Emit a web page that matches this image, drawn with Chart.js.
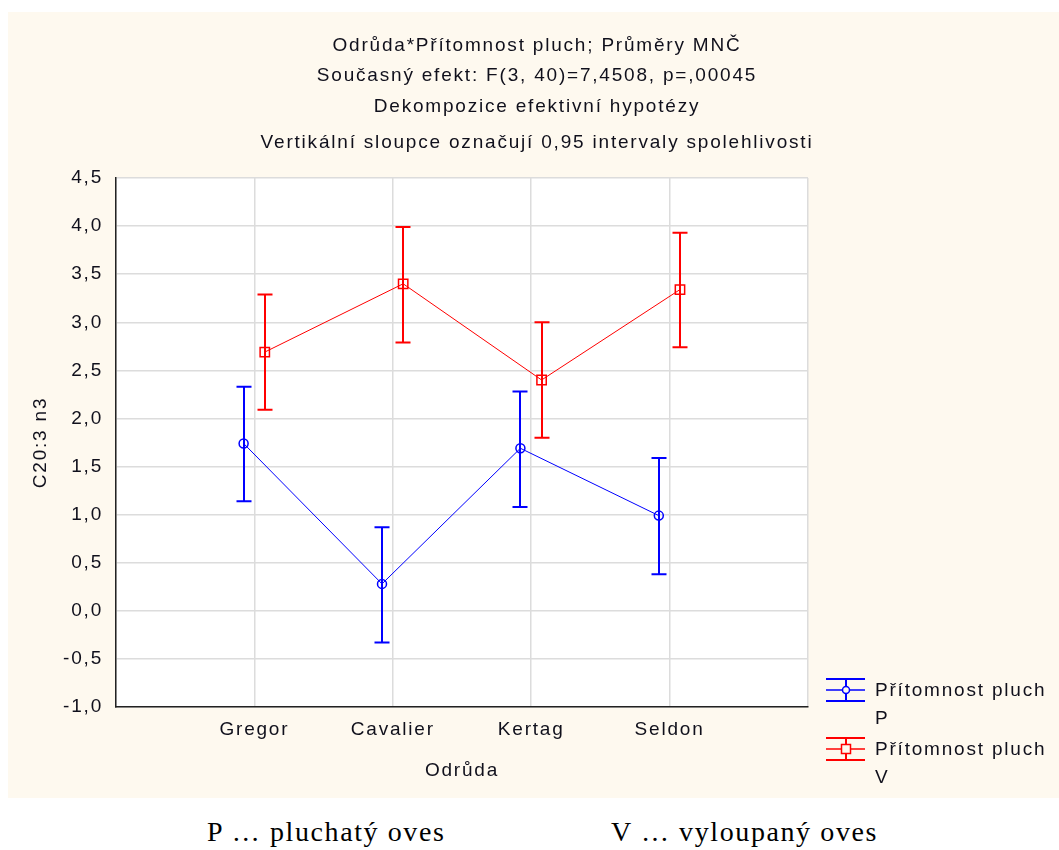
<!DOCTYPE html>
<html>
<head>
<meta charset="utf-8">
<script src="https://cdn.jsdelivr.net/npm/chart.js@4.4.1/dist/chart.umd.min.js"></script>
<style>
  html, body { margin: 0; padding: 0; background: #ffffff; width: 1059px; height: 850px; overflow: hidden; }
  #panel { position: absolute; left: 8px; top: 12px; width: 1051px; height: 786px; background: #fef9ef; }
  #c { display: block; }
  .note { position: absolute; top: 815px; font-family: "Liberation Serif", "Times New Roman", serif; font-size: 28px; line-height: 34px; letter-spacing: 1.6px; color: #000; white-space: nowrap; }
</style>
</head>
<body>
<div id="panel"><canvas id="c" width="1051" height="786"></canvas></div>
<div class="note" style="left:207px;">P … pluchatý oves</div>
<div class="note" style="left:611px;">V … vyloupaný oves</div>
<script>
// ---- data ----
const categories = ['Gregor', 'Cavalier', 'Kertag', 'Seldon'];
const titleLines = [
  'Odrůda*Přítomnost pluch; Průměry MNČ',
  'Současný efekt: F(3, 40)=7,4508, p=,00045',
  'Dekompozice efektivní hypotézy',
  'Vertikální sloupce označují 0,95 intervaly spolehlivosti'
];
const seriesNames = ['Přítomnost pluch\nP', 'Přítomnost pluch\nV'];
const meanP = [1.74, 0.28, 1.69, 0.99];
const lowP  = [1.14, -0.33, 1.08, 0.38];
const highP = [2.33, 0.87, 2.28, 1.59];
const meanV = [2.69, 3.40, 2.40, 3.34];
const lowV  = [2.09, 2.79, 1.80, 2.74];
const highV = [3.29, 3.99, 3.00, 3.93];
const yTicks = [-1.0, -0.5, 0.0, 0.5, 1.0, 1.5, 2.0, 2.5, 3.0, 3.5, 4.0, 4.5];
const xTitle = 'Odrůda';
const yTitle = 'C20:3 n3';

const BLUE = '#0000ff', RED = '#ff0000', TXT = '#10101c';
const FONT = 'Arial, "Liberation Sans", sans-serif';
const FSIZE = 19;
const SPACING = '1.8px';

const ptsP = categories.map((c, i) => ({ x: i + 1 - 0.078, y: meanP[i] }));
const ptsV = categories.map((c, i) => ({ x: i + 1 + 0.075, y: meanV[i] }));

const setSpacing = {
  id: 'setSpacing',
  beforeUpdate(chart) { chart.ctx.letterSpacing = SPACING; },
  beforeDraw(chart) {
    const ctx = chart.ctx;
    ctx.letterSpacing = SPACING;
    const a = chart.chartArea;
    ctx.save();
    ctx.fillStyle = '#ffffff';
    ctx.fillRect(a.left, a.top, a.right - a.left, a.bottom - a.top);
    ctx.restore();
  }
};

const errorBars = {
  id: 'errorBars',
  afterDatasetsDraw(chart) {
    const ctx = chart.ctx;
    const ys = chart.scales.y;
    const sets = [[lowP, highP, BLUE], [lowV, highV, RED]];
    sets.forEach(([lo, hi, col], di) => {
      const meta = chart.getDatasetMeta(di);
      ctx.save();
      ctx.strokeStyle = col;
      ctx.lineWidth = 2;
      meta.data.forEach((el, i) => {
        const x = Math.round(el.x);
        const y1 = ys.getPixelForValue(lo[i]);
        const y2 = ys.getPixelForValue(hi[i]);
        ctx.beginPath();
        ctx.moveTo(x, y1); ctx.lineTo(x, y2);
        ctx.moveTo(x - 7.5, y1); ctx.lineTo(x + 7.5, y1);
        ctx.moveTo(x - 7.5, y2); ctx.lineTo(x + 7.5, y2);
        ctx.stroke();
      });
      ctx.restore();
    });
  }
};

const titleAndLegend = {
  id: 'titleAndLegend',
  afterDraw(chart) {
    const ctx = chart.ctx;
    ctx.save();
    ctx.letterSpacing = SPACING;
    ctx.fillStyle = TXT;
    ctx.font = FSIZE + 'px ' + FONT;
    ctx.textAlign = 'center';
    ctx.textBaseline = 'middle';
    const tys = [34, 64, 95, 131];
    titleLines.forEach((t, i) => ctx.fillText(t, 529, tys[i]));

    // legend
    const items = [
      { col: BLUE, y: 678, marker: 'circle', lines: seriesNames[0].split('\n') },
      { col: RED, y: 737, marker: 'rect', lines: seriesNames[1].split('\n') }
    ];
    items.forEach(it => {
      const x0 = 818, x1 = 857, xm = 838;
      const top = it.y - 11, mid = it.y, bot = it.y + 11;
      ctx.strokeStyle = it.col;
      ctx.lineWidth = 2;
      ctx.beginPath();
      ctx.moveTo(x0, top); ctx.lineTo(x1, top);
      ctx.moveTo(x0, bot); ctx.lineTo(x1, bot);
      ctx.moveTo(xm, top); ctx.lineTo(xm, bot);
      ctx.stroke();
      ctx.lineWidth = 1.5;
      ctx.beginPath();
      ctx.moveTo(x0, mid); ctx.lineTo(x1, mid);
      ctx.stroke();
      ctx.beginPath();
      if (it.marker === 'circle') ctx.arc(xm, mid, 3.5, 0, Math.PI * 2);
      else ctx.rect(xm - 4.5, mid - 4.5, 9, 9);
      ctx.fillStyle = '#fef9ef';
      ctx.fill();
      ctx.stroke();
      ctx.fillStyle = TXT;
      ctx.textAlign = 'left';
      it.lines.forEach((l, k) => ctx.fillText(l, 867, mid + 1 + k * 28));
    });
    ctx.restore();
  }
};

const ctx = document.getElementById('c').getContext('2d');
new Chart(ctx, {
  type: 'line',
  data: {
    datasets: [
      {
        label: seriesNames[0], data: ptsP,
        borderColor: BLUE, borderWidth: 1, backgroundColor: 'rgba(0,0,0,0)',
        pointStyle: 'circle', pointRadius: 4.5, pointBorderWidth: 1.5,
        pointBorderColor: BLUE, pointBackgroundColor: 'rgba(0,0,0,0)', tension: 0
      },
      {
        label: seriesNames[1], data: ptsV,
        borderColor: RED, borderWidth: 1, backgroundColor: 'rgba(0,0,0,0)',
        pointStyle: 'rect', pointRadius: 6.6, pointBorderWidth: 1.5,
        pointBorderColor: RED, pointBackgroundColor: 'rgba(0,0,0,0)', tension: 0
      }
    ]
  },
  options: {
    responsive: false,
    animation: false,
    devicePixelRatio: 1,
    layout: { padding: { left: 0, top: 166, right: 251, bottom: 0 } },
    plugins: { legend: { display: false }, title: { display: false }, tooltip: { enabled: false } },
    scales: {
      x: {
        type: 'linear', min: 0, max: 5,
        afterBuildTicks(s) { s.ticks = [0, 1, 2, 3, 4, 5].map(v => ({ value: v })); },
        afterFit(s) { s.height = 91; },
        ticks: {
          color: TXT, font: { family: FONT, size: FSIZE }, padding: 11, maxRotation: 0, autoSkip: false,
          callback: v => (v >= 1 && v <= 4) ? categories[v - 1] : ''
        },
        grid: { color: '#dcdcdc', lineWidth: 1.5, drawTicks: false },
        border: { color: '#222', width: 1.5 },
        title: { display: true, text: xTitle, color: TXT, font: { family: FONT, size: FSIZE }, padding: { top: 0, bottom: 16 } }
      },
      y: {
        type: 'linear', min: -1, max: 4.5,
        afterBuildTicks(s) { s.ticks = yTicks.map(v => ({ value: v })); },
        afterFit(s) { s.width = 108; },
        ticks: {
          color: TXT, font: { family: FONT, size: FSIZE }, padding: 13,
          callback: v => v.toFixed(1).replace('.', ',')
        },
        grid: { color: '#dcdcdc', lineWidth: 1.5, drawTicks: false },
        border: { color: '#222', width: 1.5 },
        title: { display: true, text: yTitle, color: TXT, font: { family: FONT, size: FSIZE }, padding: { top: 21, bottom: 0 } }
      }
    }
  },
  plugins: [setSpacing, errorBars, titleAndLegend]
});
</script>
</body>
</html>
